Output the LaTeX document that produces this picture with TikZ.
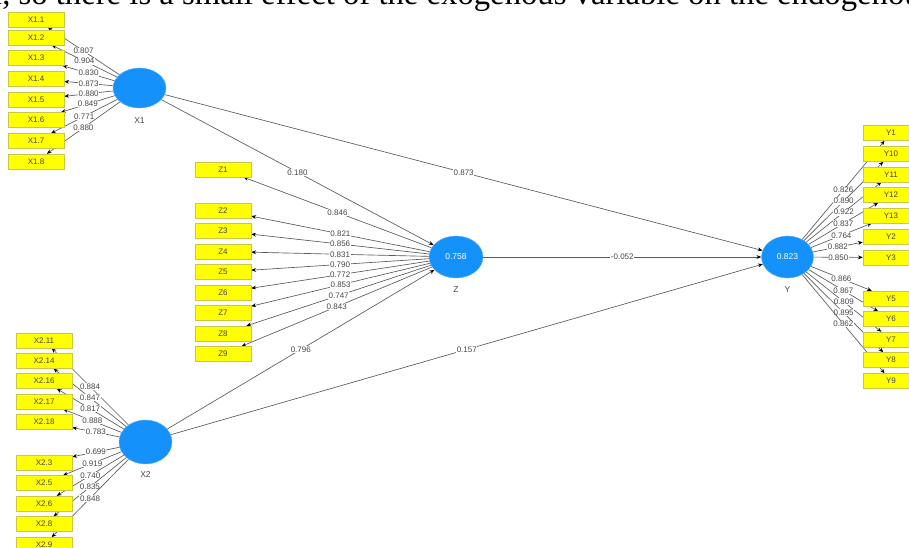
\documentclass[tikz,border=0pt]{standalone}
\usepackage{fontspec}
\setmainfont{Liberation Serif}
\newfontfamily\diafont{Liberation Sans}
\usetikzlibrary{shapes.geometric,arrows.meta}
\pgfdeclarelayer{bottom}
\pgfdeclarelayer{edges}
\pgfsetlayers{bottom,edges,main}
\definecolor{indfill}{RGB}{255,255,0}
\definecolor{indline}{RGB}{200,200,70}
\definecolor{latfill}{RGB}{20,145,250}
\definecolor{lncol}{RGB}{90,90,90}
\definecolor{txcol}{RGB}{70,70,70}
\tikzset{
  indic/.style={rectangle, draw=indline, line width=0.4pt, fill=indfill,
    minimum width=56pt, minimum height=15pt, inner sep=0pt,
    font=\diafont\fontsize{8}{9}\selectfont, text=txcol},
  latent/.style={ellipse, fill=latfill, draw=latfill!70, line width=0.4pt, inner sep=0pt,
    font=\diafont\fontsize{8.5}{10}\selectfont, text=white},
  lname/.style={font=\diafont\fontsize{8.5}{10}\selectfont, text=txcol, inner sep=0pt},
  conn/.style={draw=lncol, line width=0.65pt, -{Stealth[length=4.8pt,width=3.8pt,color=black]}},
  wt/.style={midway, fill=white, inner sep=0.6pt,
    font=\diafont\fontsize{8}{9}\selectfont, text=txcol}
}
\begin{document}
\begin{tikzpicture}[x=1pt,y=-1pt]
\useasboundingbox (0,0) rectangle (909,547);
\begin{pgfonlayer}{bottom}
  \fill[white] (0,0) rectangle (909,547);
\end{pgfonlayer}
\clip (0,0) rectangle (909,547);

% cropped line of text at the top
\node[anchor=base west, inner sep=0pt, font=\fontsize{32.7}{36}\selectfont] (toptext) at (-7,4.5)
  {l, so there is a small effect of the exogenous variable on the endogenous};

% latent variables
\node[latent, minimum width=53pt, minimum height=40pt,
  label={[lname, label distance=9pt]below:X1}] (X1) at (139.5,88) {};
\node[latent, minimum width=54pt, minimum height=42pt,
  label={[lname, label distance=8pt]below:Z}] (Z) at (456,257) {0.758};
\node[latent, minimum width=52pt, minimum height=42pt,
  label={[lname, label distance=8pt]below:Y}] (Y) at (787.5,257) {0.823};
\node[latent, minimum width=53pt, minimum height=44pt,
  label={[lname, label distance=7pt]below:X2}] (X2) at (145.5,442) {};

% X1 indicators
\foreach \nm/\tx/\yy/\ww in {x11/X1.1/19.5/0.807, x12/X1.2/37.5/0.904, x13/X1.3/58/0.830,
  x14/X1.4/79/0.873, x15/X1.5/99.5/0.880, x16/X1.6/120/0.849, x17/X1.7/141/0.771, x18/X1.8/161.5/0.880}{
  \node[indic] (\nm) at (36,\yy) {\tx};
  \begin{pgfonlayer}{edges}
    \draw[conn] (X1) -- node[wt]{\ww} (\nm);
  \end{pgfonlayer}
}

% Z indicators
\foreach \nm/\tx/\yy/\ww in {z1/Z1/169.5/0.846, z2/Z2/210.5/0.821, z3/Z3/231/0.856, z4/Z4/251.5/0.831,
  z5/Z5/272/0.790, z6/Z6/292.5/0.772, z7/Z7/313/0.853, z8/Z8/333.5/0.747, z9/Z9/354/0.843}{
  \node[indic] (\nm) at (223,\yy) {\tx};
  \begin{pgfonlayer}{edges}
    \draw[conn] (Z) -- node[wt]{\ww} (\nm);
  \end{pgfonlayer}
}

% Y indicators
\foreach \nm/\tx/\yy/\ww in {y1/Y1/133/0.826, y10/Y10/154/0.890, y11/Y11/174.5/0.922, y12/Y12/195/0.837,
  y13/Y13/215.5/0.764, y2/Y2/236.5/0.882, y3/Y3/257.5/0.850, y5/Y5/298.5/0.866, y6/Y6/319/0.867,
  y7/Y7/339.5/0.809, y8/Y8/360/0.895, y9/Y9/381/0.862}{
  \node[indic] (\nm) at (891,\yy) {\tx};
  \begin{pgfonlayer}{edges}
    \draw[conn] (Y) -- node[wt]{\ww} (\nm);
  \end{pgfonlayer}
}

% X2 indicators
\foreach \nm/\tx/\yy/\ww in {xb11/X2.11/340.5/0.884, xb14/X2.14/361/0.847, xb16/X2.16/381/0.817,
  xb17/X2.17/401.5/0.888, xb18/X2.18/422/0.783, xb3/X2.3/462.5/0.699, xb5/X2.5/483/0.919,
  xb6/X2.6/503.5/0.740, xb8/X2.8/524/0.835, xb9/X2.9/545/0.848}{
  \node[indic] (\nm) at (44,\yy) {\tx};
  \begin{pgfonlayer}{edges}
    \draw[conn] (X2) -- node[wt]{\ww} (\nm);
  \end{pgfonlayer}
}

% structural paths
\begin{pgfonlayer}{edges}
  \draw[conn] (X1) -- node[wt]{0.180} (Z);
  \draw[conn] (X1) -- node[wt]{0.873} (Y);
  \draw[conn] (X2) -- node[wt]{0.796} (Z);
  \draw[conn] (X2) -- node[wt]{0.157} (Y);
  \draw[conn] (Z) -- node[wt]{-0.052} (Y);
\end{pgfonlayer}
\end{tikzpicture}
\end{document}
